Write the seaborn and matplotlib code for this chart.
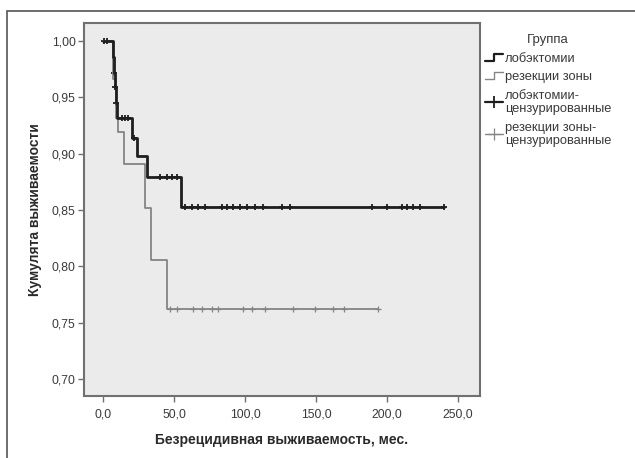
import numpy as np
import pandas as pd
import matplotlib
matplotlib.use("Agg")
import matplotlib.pyplot as plt
import seaborn as sns
from matplotlib.legend_handler import HandlerBase
from matplotlib.lines import Line2D
from matplotlib.patches import Rectangle
from matplotlib.ticker import FuncFormatter, FixedLocator

# ---- data ----
groups = ["лобэктомии", "резекции зоны"]
cens_labels = ["лобэктомии-\nцензурированные", "резекции зоны-\nцензурированные"]

lob_times = [0, 7.0, 7.6, 8.3, 9.0, 9.7, 20.4, 23.9, 31.0, 54.9, 240.2]
lob_surv = [1.000, 0.986, 0.972, 0.959, 0.945, 0.932, 0.914, 0.898, 0.879, 0.853, 0.853]
lob_cens = [1.0, 3.0, 7.8, 8.6, 9.3, 13.4, 15.5, 17.6, 21.8, 40.1, 45.1, 48.6, 52.1,
            57.7, 62.7, 66.9, 71.8, 83.8, 87.3, 91.5, 96.5, 101.4, 107.0, 112.7,
            126.1, 131.7, 189.4, 200.0, 210.6, 214.1, 218.3, 223.2, 240.2]

res_times = [0, 6.9, 9.0, 10.6, 15.0, 29.6, 33.8, 45.0, 193.7]
res_surv = [1.000, 0.966, 0.932, 0.919, 0.891, 0.852, 0.806, 0.762, 0.762]
res_cens = [47.2, 52.1, 63.4, 69.7, 76.8, 81.0, 98.6, 104.9, 114.1, 133.8,
            149.3, 161.9, 169.7, 193.7]

x_ticks = [0, 50, 100, 150, 200, 250]
y_ticks = [0.70, 0.75, 0.80, 0.85, 0.90, 0.95, 1.00]


def step_value(times, surv, t):
    idx = np.searchsorted(np.asarray(times), t, side="right") - 1
    return np.asarray(surv)[idx]


sns.set_theme(style="white")
plt.rcParams["font.family"] = ["Liberation Sans", "DejaVu Sans"]

fig = plt.figure(figsize=(6.35, 4.58), dpi=100)
ax = fig.add_axes([84 / 635, 62 / 458, 396 / 635, 373 / 458])
ax.set_facecolor("#ebebeb")

black = "#1e1e1e"
gray = "#858585"

res_df = pd.DataFrame({"t": res_times, "s": res_surv})
lob_df = pd.DataFrame({"t": lob_times, "s": lob_surv})
sns.lineplot(data=res_df, x="t", y="s", drawstyle="steps-post", estimator=None,
             sort=False, color=gray, lw=1.3, ax=ax)
sns.lineplot(data=lob_df, x="t", y="s", drawstyle="steps-post", estimator=None,
             sort=False, color=black, lw=2.0, ax=ax)

res_c = pd.DataFrame({"t": res_cens, "s": [step_value(res_times, res_surv, t) for t in res_cens]})
lob_c = pd.DataFrame({"t": lob_cens, "s": [step_value(lob_times, lob_surv, t) for t in lob_cens]})
sns.scatterplot(data=res_c, x="t", y="s", marker="+", s=18, color=gray, linewidth=0.9, ax=ax)
sns.scatterplot(data=lob_c, x="t", y="s", marker="+", s=22, color=black, linewidth=1.3, ax=ax)

ax.set_xlim(-13.4, 265.5)
ax.set_ylim(0.685, 1.016)
ax.xaxis.set_major_locator(FixedLocator(x_ticks))
ax.yaxis.set_major_locator(FixedLocator(y_ticks))
ax.xaxis.set_major_formatter(FuncFormatter(lambda v, p: f"{v:.1f}".replace(".", ",")))
ax.yaxis.set_major_formatter(FuncFormatter(lambda v, p: f"{v:.2f}".replace(".", ",")))
ax.tick_params(axis="both", direction="out", length=4, width=1, color="#707070",
               labelsize=8.8, labelcolor="#3a3a3a", left=True, bottom=True)
ax.tick_params(axis="x", pad=5)
ax.tick_params(axis="y", pad=2)
for sp in ax.spines.values():
    sp.set_color("#707070")
    sp.set_linewidth(1.5)

ax.set_xlabel("Безрецидивная выживаемость, мес.", fontsize=10, fontweight="bold",
              color="#2a2a2a", labelpad=9)
ax.set_ylabel("Кумулята выживаемости", fontsize=10, fontweight="bold",
              color="#2a2a2a", labelpad=7)


class StepHandler(HandlerBase):
    def create_artists(self, legend, orig_handle, xdescent, ydescent, width, height,
                       fontsize, trans):
        x0, y0 = -xdescent, -ydescent
        xs = [x0, x0 + width * 0.5, x0 + width * 0.5, x0 + width]
        ys = [y0 + height * 0.1, y0 + height * 0.1, y0 + height * 0.9, y0 + height * 0.9]
        ln = Line2D(xs, ys, color=orig_handle.get_color(), lw=orig_handle.get_linewidth(),
                    transform=trans)
        return [ln]


h1 = Line2D([], [], color=black, lw=1.6)
h2 = Line2D([], [], color=gray, lw=1.0)
h3 = Line2D([], [], color=black, lw=1.6, marker="+", markersize=8, markeredgewidth=1.3)
h4 = Line2D([], [], color=gray, lw=1.0, marker="+", markersize=8, markeredgewidth=0.9)
leg = fig.legend([h1, h2, h3, h4], groups + cens_labels, title="Группа",
                 loc="upper left", bbox_to_anchor=(475 / 635, 1 - 24 / 458),
                 frameon=False, fontsize=9.3, title_fontsize=9.5,
                 handlelength=1.4, handletextpad=0.1, labelspacing=0.5,
                 borderpad=0.3, handler_map={h1: StepHandler(), h2: StepHandler()})
for t in leg.get_texts():
    t.set_color("#3a3a3a")
    t.set_linespacing(1.15)
leg.get_title().set_color("#3a3a3a")

fig.patches.append(Rectangle((7 / 635, -0.02), 1.0, 1 - 11 / 458 + 0.02,
                             transform=fig.transFigure, fill=False,
                             edgecolor="#555555", lw=1.2))

fig.savefig("out.png", dpi=100)
